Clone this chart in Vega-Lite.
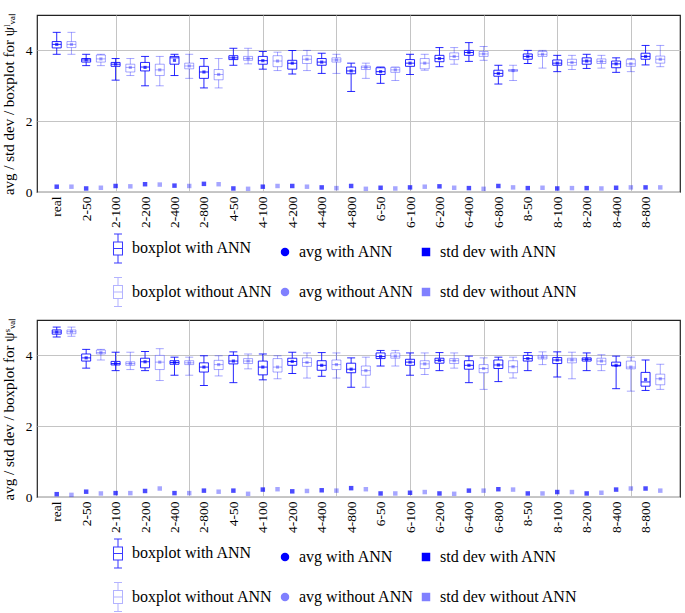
{
"$schema": "https://vega.github.io/schema/vega-lite/v6.json",
"padding": {"left": 0, "top": 11, "right": 0, "bottom": 0},
"background": "white",
"spacing": 7,
"config": {
  "font": "Liberation Serif",
  "view": {"stroke": "#222222", "strokeWidth": 1.2},
  "axis": {"labelFont": "Liberation Serif", "labelFontSize": 13.5, "labelColor": "#000000", "titleFont": "Liberation Serif", "titleFontSize": 15, "titleFontWeight": "normal", "titleColor": "#000000", "gridColor": "#c4c4c4", "gridWidth": 1},
  "axisY": {"tickCount": 3, "grid": true, "ticks": false, "domain": false, "labelPadding": 5, "titlePadding": 9},
  "legend": {"orient": "none", "legendX": 73, "legendY": 225, "columns": 3, "direction": "horizontal", "labelFont": "Liberation Serif", "labelFontSize": 16, "labelColor": "#000000", "symbolSize": 72, "symbolStrokeWidth": 0, "symbolOpacity": 1, "rowPadding": 12, "columnPadding": 4, "labelOffset": 6, "labelLimit": 400}
},
"datasets": {
"legend": [{"s": "boxplot with ANN"}, {"s": "avg with ANN"}, {"s": "std dev with ANN"}, {"s": "boxplot without ANN"}, {"s": "avg without ANN"}, {"s": "std dev without ANN"}],
"top": [
{"p":1,"a":"with","lo":3.89,"q1":4.07,"md":4.17,"q3":4.25,"hi":4.51,"avg":4.17,"sd":0.15},
{"p":2,"a":"without","lo":3.89,"q1":4.08,"md":4.17,"q3":4.25,"hi":4.51,"avg":4.17,"sd":0.15},
{"p":3,"a":"with","lo":3.57,"q1":3.67,"md":3.73,"q3":3.77,"hi":3.89,"avg":3.73,"sd":0.10},
{"p":4,"a":"without","lo":3.57,"q1":3.67,"md":3.76,"q3":3.87,"hi":3.89,"avg":3.76,"sd":0.12},
{"p":5,"a":"with","lo":3.16,"q1":3.55,"md":3.61,"q3":3.66,"hi":3.77,"avg":3.61,"sd":0.17},
{"p":6,"a":"without","lo":3.29,"q1":3.39,"md":3.52,"q3":3.61,"hi":3.77,"avg":3.52,"sd":0.16},
{"p":7,"a":"with","lo":3.00,"q1":3.42,"md":3.53,"q3":3.66,"hi":3.83,"avg":3.52,"sd":0.22},
{"p":8,"a":"without","lo":3.00,"q1":3.29,"md":3.45,"q3":3.61,"hi":3.83,"avg":3.45,"sd":0.21},
{"p":9,"a":"with","lo":3.29,"q1":3.61,"md":3.79,"q3":3.83,"hi":3.89,"avg":3.72,"sd":0.18},
{"p":10,"a":"without","lo":3.21,"q1":3.48,"md":3.56,"q3":3.64,"hi":3.89,"avg":3.56,"sd":0.17},
{"p":11,"a":"with","lo":2.94,"q1":3.21,"md":3.39,"q3":3.55,"hi":3.77,"avg":3.39,"sd":0.23},
{"p":12,"a":"without","lo":2.94,"q1":3.17,"md":3.32,"q3":3.46,"hi":3.77,"avg":3.32,"sd":0.22},
{"p":13,"a":"with","lo":3.58,"q1":3.74,"md":3.79,"q3":3.85,"hi":4.06,"avg":3.79,"sd":0.10},
{"p":14,"a":"without","lo":3.62,"q1":3.72,"md":3.77,"q3":3.83,"hi":4.06,"avg":3.77,"sd":0.09},
{"p":15,"a":"with","lo":3.47,"q1":3.61,"md":3.71,"q3":3.83,"hi":3.97,"avg":3.71,"sd":0.15},
{"p":16,"a":"without","lo":3.43,"q1":3.54,"md":3.70,"q3":3.85,"hi":3.95,"avg":3.70,"sd":0.17},
{"p":17,"a":"with","lo":3.33,"q1":3.47,"md":3.64,"q3":3.72,"hi":4.00,"avg":3.64,"sd":0.17},
{"p":18,"a":"without","lo":3.43,"q1":3.63,"md":3.75,"q3":3.85,"hi":4.00,"avg":3.75,"sd":0.15},
{"p":19,"a":"with","lo":3.35,"q1":3.58,"md":3.67,"q3":3.77,"hi":3.92,"avg":3.67,"sd":0.13},
{"p":20,"a":"without","lo":3.35,"q1":3.67,"md":3.73,"q3":3.79,"hi":3.89,"avg":3.73,"sd":0.11},
{"p":21,"a":"with","lo":2.84,"q1":3.34,"md":3.42,"q3":3.53,"hi":3.64,"avg":3.42,"sd":0.17},
{"p":22,"a":"without","lo":3.21,"q1":3.46,"md":3.52,"q3":3.56,"hi":3.64,"avg":3.52,"sd":0.09},
{"p":23,"a":"with","lo":3.07,"q1":3.32,"md":3.40,"q3":3.51,"hi":3.53,"avg":3.40,"sd":0.12},
{"p":24,"a":"without","lo":3.15,"q1":3.38,"md":3.45,"q3":3.52,"hi":3.53,"avg":3.45,"sd":0.10},
{"p":25,"a":"with","lo":3.32,"q1":3.55,"md":3.64,"q3":3.74,"hi":3.89,"avg":3.64,"sd":0.13},
{"p":26,"a":"without","lo":3.44,"q1":3.48,"md":3.64,"q3":3.77,"hi":3.89,"avg":3.64,"sd":0.15},
{"p":27,"a":"with","lo":3.54,"q1":3.68,"md":3.77,"q3":3.86,"hi":4.08,"avg":3.77,"sd":0.16},
{"p":28,"a":"without","lo":3.61,"q1":3.74,"md":3.83,"q3":3.93,"hi":4.08,"avg":3.83,"sd":0.12},
{"p":29,"a":"with","lo":3.69,"q1":3.86,"md":3.94,"q3":4.00,"hi":4.22,"avg":3.94,"sd":0.11},
{"p":30,"a":"without","lo":3.72,"q1":3.83,"md":3.90,"q3":3.97,"hi":4.11,"avg":3.90,"sd":0.09},
{"p":31,"a":"with","lo":3.05,"q1":3.27,"md":3.35,"q3":3.44,"hi":3.58,"avg":3.35,"sd":0.17},
{"p":32,"a":"without","lo":3.15,"q1":3.41,"md":3.43,"q3":3.46,"hi":3.58,"avg":3.43,"sd":0.13},
{"p":33,"a":"with","lo":3.63,"q1":3.75,"md":3.83,"q3":3.90,"hi":4.00,"avg":3.83,"sd":0.11},
{"p":34,"a":"without","lo":3.50,"q1":3.83,"md":3.89,"q3":3.97,"hi":4.00,"avg":3.89,"sd":0.12},
{"p":35,"a":"with","lo":3.40,"q1":3.58,"md":3.64,"q3":3.73,"hi":3.86,"avg":3.64,"sd":0.10},
{"p":36,"a":"without","lo":3.46,"q1":3.58,"md":3.66,"q3":3.75,"hi":3.86,"avg":3.66,"sd":0.11},
{"p":37,"a":"with","lo":3.49,"q1":3.61,"md":3.70,"q3":3.79,"hi":3.89,"avg":3.70,"sd":0.11},
{"p":38,"a":"without","lo":3.50,"q1":3.63,"md":3.69,"q3":3.76,"hi":3.86,"avg":3.69,"sd":0.10},
{"p":39,"a":"with","lo":3.38,"q1":3.51,"md":3.62,"q3":3.70,"hi":3.79,"avg":3.62,"sd":0.12},
{"p":40,"a":"without","lo":3.40,"q1":3.55,"md":3.62,"q3":3.74,"hi":3.77,"avg":3.62,"sd":0.13},
{"p":41,"a":"with","lo":3.59,"q1":3.75,"md":3.83,"q3":3.92,"hi":4.14,"avg":3.83,"sd":0.13},
{"p":42,"a":"without","lo":3.54,"q1":3.64,"md":3.75,"q3":3.84,"hi":4.14,"avg":3.75,"sd":0.13}
],
"bottom": [
{"p":1,"a":"with","lo":4.52,"q1":4.60,"md":4.66,"q3":4.72,"hi":4.80,"avg":4.66,"sd":0.08},
{"p":2,"a":"without","lo":4.54,"q1":4.61,"md":4.67,"q3":4.72,"hi":4.80,"avg":4.67,"sd":0.06},
{"p":3,"a":"with","lo":3.64,"q1":3.84,"md":3.93,"q3":4.04,"hi":4.17,"avg":3.93,"sd":0.15},
{"p":4,"a":"without","lo":3.87,"q1":4.04,"md":4.08,"q3":4.15,"hi":4.17,"avg":4.08,"sd":0.10},
{"p":5,"a":"with","lo":3.57,"q1":3.73,"md":3.77,"q3":3.83,"hi":4.09,"avg":3.77,"sd":0.11},
{"p":6,"a":"without","lo":3.60,"q1":3.72,"md":3.77,"q3":3.82,"hi":4.09,"avg":3.77,"sd":0.11},
{"p":7,"a":"with","lo":3.57,"q1":3.65,"md":3.82,"q3":3.92,"hi":4.11,"avg":3.82,"sd":0.17},
{"p":8,"a":"without","lo":3.29,"q1":3.60,"md":3.81,"q3":4.00,"hi":4.19,"avg":3.81,"sd":0.24},
{"p":9,"a":"with","lo":3.44,"q1":3.75,"md":3.80,"q3":3.85,"hi":3.95,"avg":3.80,"sd":0.11},
{"p":10,"a":"without","lo":3.44,"q1":3.74,"md":3.79,"q3":3.85,"hi":3.95,"avg":3.79,"sd":0.11},
{"p":11,"a":"with","lo":3.15,"q1":3.53,"md":3.67,"q3":3.79,"hi":3.99,"avg":3.67,"sd":0.18},
{"p":12,"a":"without","lo":3.42,"q1":3.60,"md":3.74,"q3":3.86,"hi":3.99,"avg":3.74,"sd":0.15},
{"p":13,"a":"with","lo":3.23,"q1":3.76,"md":3.84,"q3":4.00,"hi":4.10,"avg":3.84,"sd":0.18},
{"p":14,"a":"without","lo":3.62,"q1":3.77,"md":3.84,"q3":3.91,"hi":4.04,"avg":3.84,"sd":0.09},
{"p":15,"a":"with","lo":3.31,"q1":3.45,"md":3.67,"q3":3.84,"hi":4.04,"avg":3.67,"sd":0.21},
{"p":16,"a":"without","lo":3.34,"q1":3.53,"md":3.67,"q3":3.91,"hi":3.99,"avg":3.67,"sd":0.22},
{"p":17,"a":"with","lo":3.49,"q1":3.72,"md":3.83,"q3":3.92,"hi":4.09,"avg":3.83,"sd":0.16},
{"p":18,"a":"without","lo":3.36,"q1":3.69,"md":3.80,"q3":3.93,"hi":4.07,"avg":3.80,"sd":0.17},
{"p":19,"a":"with","lo":3.41,"q1":3.58,"md":3.72,"q3":3.85,"hi":4.08,"avg":3.72,"sd":0.19},
{"p":20,"a":"without","lo":3.36,"q1":3.60,"md":3.74,"q3":3.87,"hi":4.07,"avg":3.74,"sd":0.18},
{"p":21,"a":"with","lo":3.10,"q1":3.51,"md":3.61,"q3":3.78,"hi":3.93,"avg":3.61,"sd":0.25},
{"p":22,"a":"without","lo":3.10,"q1":3.44,"md":3.57,"q3":3.70,"hi":3.95,"avg":3.57,"sd":0.22},
{"p":23,"a":"with","lo":3.70,"q1":3.91,"md":3.97,"q3":4.07,"hi":4.14,"avg":3.97,"sd":0.10},
{"p":24,"a":"without","lo":3.70,"q1":3.92,"md":3.98,"q3":4.07,"hi":4.14,"avg":3.98,"sd":0.10},
{"p":25,"a":"with","lo":3.44,"q1":3.72,"md":3.81,"q3":3.89,"hi":4.07,"avg":3.81,"sd":0.12},
{"p":26,"a":"without","lo":3.46,"q1":3.63,"md":3.76,"q3":3.85,"hi":4.07,"avg":3.76,"sd":0.14},
{"p":27,"a":"with","lo":3.57,"q1":3.78,"md":3.86,"q3":3.92,"hi":4.08,"avg":3.86,"sd":0.10},
{"p":28,"a":"without","lo":3.64,"q1":3.77,"md":3.85,"q3":3.91,"hi":4.07,"avg":3.85,"sd":0.09},
{"p":29,"a":"with","lo":3.23,"q1":3.61,"md":3.72,"q3":3.85,"hi":3.98,"avg":3.72,"sd":0.18},
{"p":30,"a":"without","lo":3.04,"q1":3.51,"md":3.63,"q3":3.74,"hi":3.93,"avg":3.63,"sd":0.18},
{"p":31,"a":"with","lo":3.26,"q1":3.63,"md":3.73,"q3":3.87,"hi":3.95,"avg":3.73,"sd":0.22},
{"p":32,"a":"without","lo":3.36,"q1":3.51,"md":3.68,"q3":3.85,"hi":3.95,"avg":3.68,"sd":0.21},
{"p":33,"a":"with","lo":3.57,"q1":3.84,"md":3.91,"q3":4.00,"hi":4.08,"avg":3.91,"sd":0.10},
{"p":34,"a":"without","lo":3.74,"q1":3.90,"md":3.95,"q3":4.00,"hi":4.10,"avg":3.95,"sd":0.10},
{"p":35,"a":"with","lo":3.39,"q1":3.77,"md":3.87,"q3":3.94,"hi":4.10,"avg":3.87,"sd":0.14},
{"p":36,"a":"without","lo":3.34,"q1":3.79,"md":3.87,"q3":3.92,"hi":4.09,"avg":3.87,"sd":0.14},
{"p":37,"a":"with","lo":3.57,"q1":3.84,"md":3.89,"q3":3.93,"hi":4.07,"avg":3.89,"sd":0.10},
{"p":38,"a":"without","lo":3.57,"q1":3.74,"md":3.84,"q3":3.92,"hi":4.02,"avg":3.84,"sd":0.12},
{"p":39,"a":"with","lo":3.06,"q1":3.70,"md":3.72,"q3":3.81,"hi":3.98,"avg":3.72,"sd":0.21},
{"p":40,"a":"without","lo":2.99,"q1":3.62,"md":3.67,"q3":3.84,"hi":3.95,"avg":3.67,"sd":0.24},
{"p":41,"a":"with","lo":3.01,"q1":3.13,"md":3.25,"q3":3.52,"hi":3.87,"avg":3.32,"sd":0.24},
{"p":42,"a":"without","lo":3.04,"q1":3.17,"md":3.34,"q3":3.47,"hi":3.75,"avg":3.34,"sd":0.18}
]
},
"resolve": {"scale": {"color": "independent", "shape": "independent"}, "legend": {"color": "independent", "shape": "independent"}},
"vconcat": [
{
 "width": 643, "height": 177,
 "data": {"name": "top"},
 "resolve": {"axis": {"x": "independent"}},
 "layer": [
  {"mark": {"type": "rule", "color": "#0000ff", "strokeWidth": 1},
   "encoding": {
    "x": {"field": "p", "type": "quantitative", "scale": {"domain": [0, 43], "nice": false, "zero": false}, "axis": {"orient": "top", "values": [5,10,15,20,25,30,35,40], "grid": true, "labels": false, "ticks": false, "domain": false, "title": null}},
    "y": {"field": "lo", "type": "quantitative", "scale": {"domain": [0, 5], "nice": false}, "title": "avg / std dev / boxplot for ψˡᵥₐₗ"},
    "y2": {"field": "hi"},
    "opacity": {"field": "a", "type": "nominal", "scale": {"domain": ["with", "without"], "range": [0.85, 0.35]}, "legend": null}}},
  {"mark": {"type": "tick", "color": "#0000ff", "orient": "horizontal", "size": 8, "thickness": 1},
   "encoding": {
    "x": {"field": "p", "type": "quantitative", "axis": {"orient": "bottom", "values": [1,3,5,7,9,11,13,15,17,19,21,23,25,27,29,31,33,35,37,39,41], "labelExpr": "['real','2-50','2-100','2-200','2-400','2-800','4-50','4-100','4-200','4-400','4-800','6-50','6-100','6-200','6-400','6-800','8-50','8-100','8-200','8-400','8-800'][(datum.value-1)/2]", "labelAngle": -90, "grid": false, "ticks": false, "domain": false, "title": null, "labelPadding": 4}},
    "y": {"field": "lo", "type": "quantitative", "title": "avg / std dev / boxplot for ψˡᵥₐₗ"},
    "opacity": {"field": "a", "type": "nominal", "legend": null}}},
  {"mark": {"type": "tick", "color": "#0000ff", "orient": "horizontal", "size": 8, "thickness": 1},
   "encoding": {
    "x": {"field": "p", "type": "quantitative", "axis": null},
    "y": {"field": "hi", "type": "quantitative", "title": "avg / std dev / boxplot for ψˡᵥₐₗ"},
    "opacity": {"field": "a", "type": "nominal", "legend": null}}},
  {"mark": {"type": "bar", "fill": "white", "stroke": "#0000ff", "strokeWidth": 1, "size": 9},
   "encoding": {
    "x": {"field": "p", "type": "quantitative", "axis": null},
    "y": {"field": "q1", "type": "quantitative", "title": "avg / std dev / boxplot for ψˡᵥₐₗ"},
    "y2": {"field": "q3"},
    "strokeOpacity": {"field": "a", "type": "nominal", "scale": {"domain": ["with", "without"], "range": [0.85, 0.35]}, "legend": null}}},
  {"mark": {"type": "tick", "color": "#0000ff", "orient": "horizontal", "size": 9, "thickness": 1},
   "encoding": {
    "x": {"field": "p", "type": "quantitative", "axis": null},
    "y": {"field": "md", "type": "quantitative", "title": "avg / std dev / boxplot for ψˡᵥₐₗ"},
    "opacity": {"field": "a", "type": "nominal", "legend": null}}},
  {"mark": {"type": "point", "shape": "square", "filled": true, "size": 10, "color": "#0000ff", "strokeWidth": 0},
   "encoding": {
    "x": {"field": "p", "type": "quantitative", "axis": null},
    "y": {"field": "avg", "type": "quantitative", "title": "avg / std dev / boxplot for ψˡᵥₐₗ"},
    "fillOpacity": {"field": "a", "type": "nominal", "scale": {"domain": ["with", "without"], "range": [1, 0.5]}, "legend": null}}},
  {"mark": {"type": "point", "shape": "square", "filled": true, "size": 20, "color": "#0000ff", "strokeWidth": 0},
   "encoding": {
    "x": {"field": "p", "type": "quantitative", "axis": null},
    "y": {"field": "sd", "type": "quantitative", "title": "avg / std dev / boxplot for ψˡᵥₐₗ"},
    "fillOpacity": {"field": "a", "type": "nominal", "legend": null}}},
  {"data": {"name": "legend"},
   "mark": {"type": "point", "filled": true, "opacity": 0, "size": 72},
   "encoding": {
    "color": {"field": "s", "type": "nominal", "scale": {"domain": ["boxplot with ANN", "avg with ANN", "std dev with ANN", "boxplot without ANN", "avg without ANN", "std dev without ANN"], "range": ["#3a3aff", "#0000ff", "#0000ff", "#b3b3ff", "#8080ff", "#8080ff"]}, "legend": {"title": null}},
    "shape": {"field": "s", "type": "nominal", "scale": {"domain": ["boxplot with ANN", "avg with ANN", "std dev with ANN", "boxplot without ANN", "avg without ANN", "std dev without ANN"], "range": ["M-0.94,-3.54H0.94V-3.3H-0.94Z M-0.12,-3.3H0.12V-1.65H-0.12Z M-1.18,-1.65H1.18V1.65H-1.18Z M-0.94,-1.41V1.41H0.94V-1.41Z M-0.94,-0.12H0.94V0.12H-0.94Z M-0.12,1.65H0.12V3.3H-0.12Z M-0.94,3.3H0.94V3.54H-0.94Z", "circle", "square", "M-0.94,-3.54H0.94V-3.3H-0.94Z M-0.12,-3.3H0.12V-1.65H-0.12Z M-1.18,-1.65H1.18V1.65H-1.18Z M-0.94,-1.41V1.41H0.94V-1.41Z M-0.94,-0.12H0.94V0.12H-0.94Z M-0.12,1.65H0.12V3.3H-0.12Z M-0.94,3.3H0.94V3.54H-0.94Z", "circle", "square"]}, "legend": {"title": null}}}}
 ]
},
{
 "width": 643, "height": 177,
 "data": {"name": "bottom"},
 "resolve": {"axis": {"x": "independent"}},
 "layer": [
  {"mark": {"type": "rule", "color": "#0000ff", "strokeWidth": 1},
   "encoding": {
    "x": {"field": "p", "type": "quantitative", "scale": {"domain": [0, 43], "nice": false, "zero": false}, "axis": {"orient": "top", "values": [5,10,15,20,25,30,35,40], "grid": true, "labels": false, "ticks": false, "domain": false, "title": null}},
    "y": {"field": "lo", "type": "quantitative", "scale": {"domain": [0, 5], "nice": false}, "title": "avg / std dev / boxplot for ψˢᵥₐₗ"},
    "y2": {"field": "hi"},
    "opacity": {"field": "a", "type": "nominal", "scale": {"domain": ["with", "without"], "range": [0.85, 0.35]}, "legend": null}}},
  {"mark": {"type": "tick", "color": "#0000ff", "orient": "horizontal", "size": 8, "thickness": 1},
   "encoding": {
    "x": {"field": "p", "type": "quantitative", "axis": {"orient": "bottom", "values": [1,3,5,7,9,11,13,15,17,19,21,23,25,27,29,31,33,35,37,39,41], "labelExpr": "['real','2-50','2-100','2-200','2-400','2-800','4-50','4-100','4-200','4-400','4-800','6-50','6-100','6-200','6-400','6-800','8-50','8-100','8-200','8-400','8-800'][(datum.value-1)/2]", "labelAngle": -90, "grid": false, "ticks": false, "domain": false, "title": null, "labelPadding": 4}},
    "y": {"field": "lo", "type": "quantitative", "title": "avg / std dev / boxplot for ψˢᵥₐₗ"},
    "opacity": {"field": "a", "type": "nominal", "legend": null}}},
  {"mark": {"type": "tick", "color": "#0000ff", "orient": "horizontal", "size": 8, "thickness": 1},
   "encoding": {
    "x": {"field": "p", "type": "quantitative", "axis": null},
    "y": {"field": "hi", "type": "quantitative", "title": "avg / std dev / boxplot for ψˢᵥₐₗ"},
    "opacity": {"field": "a", "type": "nominal", "legend": null}}},
  {"mark": {"type": "bar", "fill": "white", "stroke": "#0000ff", "strokeWidth": 1, "size": 9},
   "encoding": {
    "x": {"field": "p", "type": "quantitative", "axis": null},
    "y": {"field": "q1", "type": "quantitative", "title": "avg / std dev / boxplot for ψˢᵥₐₗ"},
    "y2": {"field": "q3"},
    "strokeOpacity": {"field": "a", "type": "nominal", "scale": {"domain": ["with", "without"], "range": [0.85, 0.35]}, "legend": null}}},
  {"mark": {"type": "tick", "color": "#0000ff", "orient": "horizontal", "size": 9, "thickness": 1},
   "encoding": {
    "x": {"field": "p", "type": "quantitative", "axis": null},
    "y": {"field": "md", "type": "quantitative", "title": "avg / std dev / boxplot for ψˢᵥₐₗ"},
    "opacity": {"field": "a", "type": "nominal", "legend": null}}},
  {"mark": {"type": "point", "shape": "square", "filled": true, "size": 10, "color": "#0000ff", "strokeWidth": 0},
   "encoding": {
    "x": {"field": "p", "type": "quantitative", "axis": null},
    "y": {"field": "avg", "type": "quantitative", "title": "avg / std dev / boxplot for ψˢᵥₐₗ"},
    "fillOpacity": {"field": "a", "type": "nominal", "scale": {"domain": ["with", "without"], "range": [1, 0.5]}, "legend": null}}},
  {"mark": {"type": "point", "shape": "square", "filled": true, "size": 20, "color": "#0000ff", "strokeWidth": 0},
   "encoding": {
    "x": {"field": "p", "type": "quantitative", "axis": null},
    "y": {"field": "sd", "type": "quantitative", "title": "avg / std dev / boxplot for ψˢᵥₐₗ"},
    "fillOpacity": {"field": "a", "type": "nominal", "legend": null}}},
  {"data": {"name": "legend"},
   "mark": {"type": "point", "filled": true, "opacity": 0, "size": 72},
   "encoding": {
    "color": {"field": "s", "type": "nominal", "scale": {"domain": ["boxplot with ANN", "avg with ANN", "std dev with ANN", "boxplot without ANN", "avg without ANN", "std dev without ANN"], "range": ["#3a3aff", "#0000ff", "#0000ff", "#b3b3ff", "#8080ff", "#8080ff"]}, "legend": {"title": null}},
    "shape": {"field": "s", "type": "nominal", "scale": {"domain": ["boxplot with ANN", "avg with ANN", "std dev with ANN", "boxplot without ANN", "avg without ANN", "std dev without ANN"], "range": ["M-0.94,-3.54H0.94V-3.3H-0.94Z M-0.12,-3.3H0.12V-1.65H-0.12Z M-1.18,-1.65H1.18V1.65H-1.18Z M-0.94,-1.41V1.41H0.94V-1.41Z M-0.94,-0.12H0.94V0.12H-0.94Z M-0.12,1.65H0.12V3.3H-0.12Z M-0.94,3.3H0.94V3.54H-0.94Z", "circle", "square", "M-0.94,-3.54H0.94V-3.3H-0.94Z M-0.12,-3.3H0.12V-1.65H-0.12Z M-1.18,-1.65H1.18V1.65H-1.18Z M-0.94,-1.41V1.41H0.94V-1.41Z M-0.94,-0.12H0.94V0.12H-0.94Z M-0.12,1.65H0.12V3.3H-0.12Z M-0.94,3.3H0.94V3.54H-0.94Z", "circle", "square"]}, "legend": {"title": null}}}}
 ]
}
]
}
